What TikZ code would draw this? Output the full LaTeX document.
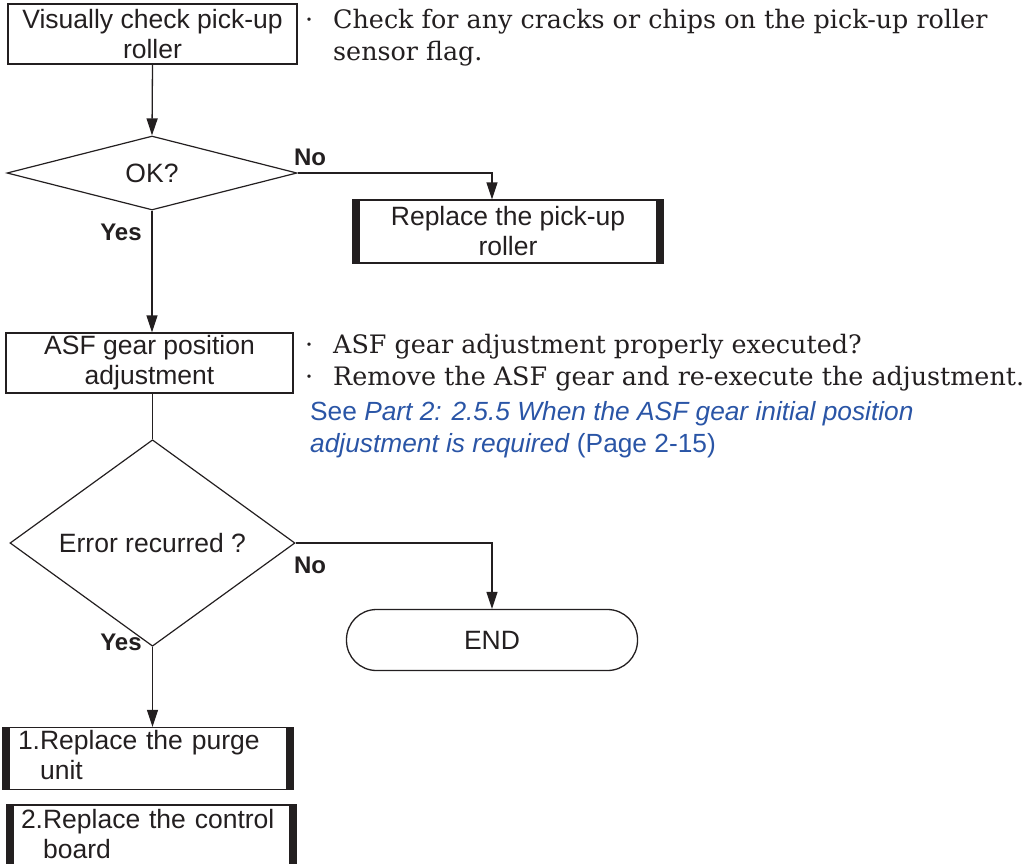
\documentclass[tikz,border=0pt]{standalone}
\usepackage{fontspec}
\usepackage{graphicx}
\usetikzlibrary{shapes.geometric,arrows.meta,calc}
\newfontfamily\arialf{Liberation Sans}
\newfontfamily\seriff{DejaVu Serif}
\definecolor{ink}{HTML}{231F20}
\definecolor{linkblue}{HTML}{2A55A6}
\begin{document}
\begin{tikzpicture}[x=1pt,y=-1pt,
  every node/.style={text=ink},
  sanstext/.style={font=\arialf\fontsize{26.5}{30}\selectfont},
  lbl/.style={font=\arialf\bfseries\fontsize{24}{28}\selectfont, inner sep=0pt},
  plainbox/.style={draw=ink, line width=1.3pt, rectangle, sanstext, align=center, inner sep=0pt},
  actbox/.style={plainbox, path picture={
      \fill[ink] (path picture bounding box.north west) rectangle ([xshift=7pt]path picture bounding box.south west);
      \fill[ink] (path picture bounding box.north east) rectangle ([xshift=-7pt]path picture bounding box.south east);}},
  decision/.style={draw=ink, line width=1.2pt, diamond, inner sep=0pt, sanstext},
  terminal/.style={draw=ink, line width=1.3pt, rectangle, rounded corners=30pt, sanstext},
  flow/.style={draw=ink, line width=1.3pt},
  arr/.style={flow, -{Triangle[length=17pt,width=11pt]}},
  note/.style={font=\seriff\fontsize{25.4}{32}\selectfont, anchor=base west, inner sep=0pt},
  link/.style={font=\arialf\fontsize{26.3}{32}\selectfont, anchor=base west, inner sep=0pt, text=linkblue},
]
\clip (0,0) rectangle (1031,863);

\node[plainbox, minimum width=289pt, minimum height=60pt] (vis) at (152.5,34) {Visually check pick-up\\roller};
\node[decision, minimum width=290pt, minimum height=74pt] (ok) at (152,173) {OK?};
\node[actbox, minimum width=310pt, minimum height=63pt] (rpr) at (508,231.5) {Replace the pick-up\\roller};
\node[plainbox, minimum width=287pt, minimum height=60pt] (asf) at (149.5,363) {ASF gear position\\adjustment};
\node[decision, minimum width=285pt, minimum height=162pt] (err) at (152.5,543) {Error recurred ?};
\node[terminal, minimum width=291pt, minimum height=61pt] (end) at (492,640) {END};
\node[actbox, minimum width=290pt, minimum height=62pt, text width=260pt, align=left, inner xsep=15pt] (pu) at (148,758.5)
  {\begin{tabular}{@{}l@{}l@{}}1.&Replace the purge\\&unit\end{tabular}};
\node[actbox, minimum width=289pt, minimum height=64pt, text width=261pt, align=left, inner xsep=14pt] (cb) at (151.5,837)
  {\begin{tabular}{@{}l@{}l@{}}2.&Replace the control\\&board\end{tabular}};

\node[lbl] (no1) at (310,157) {No};
\node[lbl] (yes1) at (121,232) {Yes};
\node[lbl] (no2) at (310,565) {No};
\node[lbl] (yes2) at (121,642) {Yes};

\draw[arr] (vis.south) -- (ok.north);
\draw[arr] (ok.east) -| ([xshift=-16pt]rpr.north);
\draw[arr] (ok.south) -- (ok.south |- asf.north);
\draw[flow] (asf.south -| err.north) -- (err.north);
\draw[arr] (err.east) -| (end.north);
\draw[arr] (err.south) -- (err.south |- pu.north);

\node[note] (n1) at (305,28) {\begin{tabular}[t]{@{}p{28pt}@{}l@{}}\textperiodcentered & Check for any cracks or chips on the pick-up roller\\ & sensor flag.\end{tabular}};
\node[note] (n2) at (305,353) {\begin{tabular}[t]{@{}p{28pt}@{}l@{}}\textperiodcentered & ASF gear adjustment properly executed?\\ \textperiodcentered & Remove the ASF gear and re-execute the adjustment.\end{tabular}};
\node[link] (see) at (310,420) {\begin{tabular}[t]{@{}l@{}}See \textit{Part 2: 2.5.5 When the ASF gear initial position}\\\textit{adjustment is required} (Page 2-15)\end{tabular}};
\end{tikzpicture}
\end{document}
